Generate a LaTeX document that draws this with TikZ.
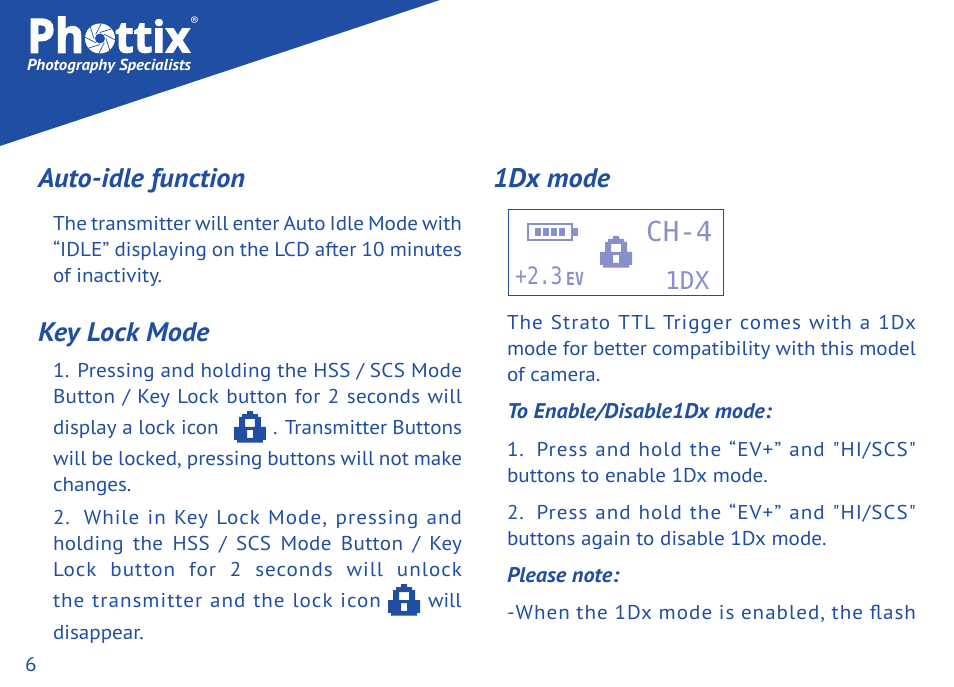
\documentclass[tikz,border=0pt]{standalone}
\usepackage{fontspec}
\usepackage{graphicx}
\setmainfont[FakeStretch=1.055]{PT Sans}
\newfontfamily\trk[LetterSpace=5,FakeStretch=1.055]{PT Sans}
\newfontfamily\trkb[LetterSpace=1.5,FakeStretch=1.055]{PT Sans}
\newfontfamily\lcd{DejaVu Sans Mono}
\newfontfamily\lcdn[FakeStretch=0.82]{DejaVu Sans Mono}
\newfontfamily\logof[FakeBold=2.5]{Open Sans}
\definecolor{pblue}{HTML}{1F4EA3}
\definecolor{lcdc}{HTML}{8890CC}
\tikzset{
 txt/.style={anchor=base west,inner sep=0pt,outer sep=0pt,text=pblue,yshift=-0.8pt,font=\fontsize{20}{24}\selectfont},
 head/.style={txt,font=\fontsize{26.8}{30}\selectfont\bfseries\itshape},
 subh/.style={txt,font=\fontsize{21.2}{24}\selectfont\bfseries\itshape},
 lcdt/.style={anchor=base west,inner sep=0pt,text=lcdc},
}
\newcommand{\bodyline}[5]{\node[txt] (#1) at (#2,#3) {\makebox[#4pt][s]{#5}};}
\newcommand{\padlock}[4]{%
 \begin{scope}[shift={(#2,#3)},x=0.3333pt,y=-0.3333pt]
 \fill[#4,even odd rule] (39,0)--(57,0)--(57,9)--(72,9)--(72,18)--(81,18)--(81,48)--(96,48)--(96,87)--(87,87)--(87,95)--(9,95)--(9,87)--(0,87)--(0,48)--(15,48)--(15,18)--(24,18)--(24,9)--(39,9)--cycle
 (33,24)--(63,24)--(63,48)--(33,48)--cycle
 (39,57)--(57,57)--(57,81)--(39,81)--cycle;
 \coordinate (#1) at (48,48);
 \end{scope}}
\begin{document}
\begin{tikzpicture}[x=1pt,y=-1pt]
\useasboundingbox (0,0) rectangle (954,687);
\fill[white] (0,0) rectangle (954,687);
\fill[pblue] (0,0)--(440,0)--(0,146)--cycle;
% logo
\node[anchor=south west,inner sep=0pt,text=white] (logoa) at (27,53) {\resizebox{57pt}{36pt}{\logof\bfseries Ph}};
\node[anchor=south west,inner sep=0pt,text=white] (logob) at (115,53) {\resizebox{75pt}{33pt}{\logof\bfseries ttix}};
\fill[white] (100,38.5) circle (15);
\foreach \a in {0,45,...,315}{\draw[pblue,line width=0.7pt] (100,38.5)+(\a:6) -- +(\a+50:15);}
\fill[pblue] (100,38.5) circle (5);
\node[anchor=base west,inner sep=0pt,text=white,font=\fontsize{12}{12}\selectfont] (reg) at (190,26) {®};
\node[anchor=base west,inner sep=0pt,text=white,font=\fontsize{15.9}{18}\selectfont\bfseries\itshape] (tag) at (27,71) {Photography Specialists};
% left
\node[head] (h1) at (38,187) {Auto-idle function};
\bodyline{l1}{53}{230}{409}{The transmitter will enter Auto Idle Mode with}
\bodyline{l2}{53}{256}{409}{“IDLE” displaying on the LCD after 10 minutes}
\node[txt] (l3) at (53,282) {of inactivity.};
\node[head] (h2) at (38,341) {Key Lock Mode};
\bodyline{k1}{53}{377}{409}{\trkb 1. Pressing and holding the HSS / SCS Mode}
\bodyline{k2}{53}{403}{409}{\trkb Button / Key Lock button for 2 seconds will}
\node[txt] (k3) at (53,434) {display a lock icon};
\padlock{lockA}{234}{411}{pblue}
\node[txt] (k3b) at (273,434) {\makebox[189pt][s]{. Transmitter Buttons}};
\bodyline{k4}{53}{465}{409}{will be locked, pressing buttons will not make}
\node[txt] (k5) at (53,491) {changes.};
\bodyline{k6}{53}{524}{409}{\trk 2. While in Key Lock Mode, pressing and}
\bodyline{k7}{53}{550}{409}{\trkb holding the HSS / SCS Mode Button / Key}
\bodyline{k8}{53}{576}{409}{\trk Lock button for 2 seconds will unlock}
\node[txt] (k9) at (53,607) {\makebox[328pt][s]{\trk the transmitter and the lock icon}};
\padlock{lockB}{388}{584}{pblue}
\node[txt] (k9b) at (428,607) {will};
\node[txt] (k10) at (53,639) {disappear.};
\node[txt] (pg) at (25,671) {6};
% right
\node[head] (h3) at (493,187) {1Dx mode};
\node[draw=pblue,line width=0.8pt,minimum width=215pt,minimum height=86pt,inner sep=0pt,anchor=north west] (lcdbox) at (508,209.5) {};
\draw[lcdc,line width=2pt] (528,224) rectangle (572,240);
\fill[lcdc] (573,228) rectangle (578,236);
\foreach \i in {0,1,2,3}{\fill[lcdc] (535+\i*8,228) rectangle +(6,8);}
\padlock{lockC}{600}{236}{lcdc}
\node[lcdt,font=\lcd\fontsize{27.5}{28}\selectfont] (ch) at (646,242) {CH-4};
\node[lcdt,font=\lcdn\fontsize{24}{26}\selectfont] (ev) at (515,285) {+2.3};
\node[lcdt,font=\lcdn\bfseries\fontsize{18}{18}\selectfont] (evu) at (566,286) {EV};
\node[lcdt,font=\lcd\fontsize{24.5}{26}\selectfont] (dx) at (665,290) {1DX};
\bodyline{r1}{507}{329}{409}{\trk The Strato TTL Trigger comes with a 1Dx}
\bodyline{r2}{507}{355}{409}{mode for better compatibility with this model}
\node[txt] (r3) at (507,381) {of camera.};
\node[subh] (r4) at (507,418) {To Enable/Disable1Dx mode:};
\bodyline{r5}{507}{456}{409}{\trk 1. Press and hold the “EV+” and "HI/SCS"}
\node[txt] (r6) at (507,482) {buttons to enable 1Dx mode.};
\bodyline{r7}{507}{519}{409}{\trk 2. Press and hold the “EV+” and "HI/SCS"}
\node[txt] (r8) at (507,545) {buttons again to disable 1Dx mode.};
\node[subh] (r9) at (507,582) {Please note:};
\bodyline{r10}{507}{619}{409}{\trk -When the 1Dx mode is enabled, the flash}
\end{tikzpicture}
\end{document}
